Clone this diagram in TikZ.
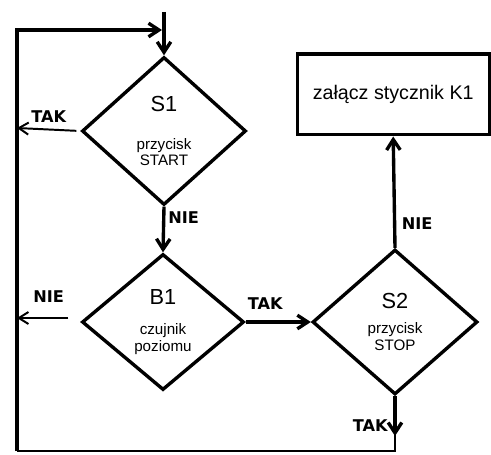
\documentclass[tikz,border=0pt]{standalone}
\usepackage{fontspec}
\setmainfont{Liberation Sans}
\newfontfamily\labelfont{DejaVu Sans}
\usetikzlibrary{shapes.geometric,arrows.meta,positioning}

\newcommand{\bigtxt}{\fontsize{15.5}{17}\selectfont}
\newcommand{\smalltxt}{\fontsize{10.8}{13}\selectfont}

\begin{document}
\begin{tikzpicture}[
  decision/.style={diamond, draw=black, line width=2.4pt, inner sep=0pt,
                   align=center},
  action/.style={rectangle, draw=black, line width=2.4pt,
                 minimum width=4.8cm, minimum height=2.02cm,
                 font=\fontsize{14}{16}\selectfont},
  arr/.style={-{Straight Barb[length=2.6mm,width=3.4mm]}, line width=2.4pt},
  tarr/.style={-{Straight Barb[length=2.4mm,width=3mm]}, line width=1.4pt},
  loop/.style={line width=2.4pt},
  answer/.style={font=\fontsize{11.5}{13}\selectfont\labelfont\bfseries, inner sep=2pt}
]
\useasboundingbox (0,0) rectangle (12.275,-11.35);

%% ---- decisions ----
\node[decision, minimum width=4.1cm, minimum height=3.7cm] (S1) at (4.1,-3.275)
     {{\bigtxt S1}\\[15pt]{\smalltxt przycisk}\\{\smalltxt START}};
\node[decision, minimum width=4.05cm, minimum height=3.4cm] (B1) at (4.075,-8.05)
     {{\bigtxt B1}\\[9pt]{\smalltxt czujnik}\\{\smalltxt poziomu}};
\node[decision, minimum width=4.125cm, minimum height=3.625cm] (S2) at (9.875,-8.05)
     {{\bigtxt S2}\\[6pt]{\smalltxt przycisk}\\{\smalltxt STOP}};

%% ---- action ----
\node[action] (K1) at (9.83,-2.36) {załącz stycznik K1};

%% ---- loop corners ----
\coordinate (entry) at (4.1,-0.3);
\coordinate (join)  at (4.05,-0.75);
\coordinate (tl)    at (0.425,-0.75);
\coordinate (bl)    at (0.425,-11.275);
\coordinate (br)    at (9.875,-11.275);
\coordinate (s2out) at (9.875,-10.9);
\coordinate (s1out) at (0.425,-3.2);
\coordinate (b1out) at (0.425,-7.95);

%% ---- connectors ----
\draw[arr] (entry) -- (S1.north);
\draw[arr] (S1.south) -- (B1.north)
     node[answer, right, pos=0.25] {NIE};
\draw[tarr, shorten <=0.1cm] (S1.west) -- (s1out)
     node[answer, above=2pt, midway] {TAK};
\draw[tarr, shorten <=0.3cm] (B1.west |- b1out) -- (b1out)
     node[answer, above=8pt, midway] {NIE};
\draw[arr] (B1.east) -- (S2.west)
     node[answer, above=6pt, pos=0.3] {TAK};
\draw[arr] (S2.north) -- (K1.south)
     node[answer, right=2pt, pos=0.22] {NIE};
\draw[arr] (S2.south) -- (s2out)
     node[answer, left=2pt, pos=0.75] {TAK};

%% ---- return loop ----
\draw[loop, line width=1.8pt] (S2.south) -- (br) -- (bl);
\draw[loop, -{Straight Barb[length=2.6mm,width=3.4mm]}] (bl) -- (tl) -- (join);

\end{tikzpicture}
\end{document}
